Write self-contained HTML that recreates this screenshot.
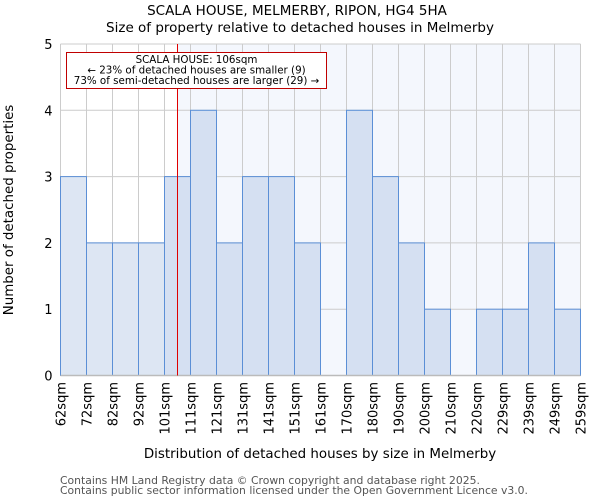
<!DOCTYPE html>
<html><head><meta charset="utf-8"><style>
body{margin:0;background:#fff;font-family:"DejaVu Sans","Liberation Sans",sans-serif;}
</style></head><body>
<svg id="chart" width="600" height="500" xmlns="http://www.w3.org/2000/svg" font-family="DejaVu Sans, Liberation Sans, sans-serif">
<text x="297" y="15" text-anchor="middle" font-size="13.5">SCALA HOUSE, MELMERBY, RIPON, HG4 5HA</text>
<text x="300" y="32" text-anchor="middle" font-size="13.5">Size of property relative to detached houses in Melmerby</text>
<g id="plot"></g>
<text x="320" y="458" text-anchor="middle" font-size="13.4">Distribution of detached houses by size in Melmerby</text>
<text transform="translate(13,210) rotate(-90)" text-anchor="middle" font-size="13.4">Number of detached properties</text>
<text x="60" y="484" font-size="10.8" fill="#555">Contains HM Land Registry data © Crown copyright and database right 2025.</text>
<text x="60" y="494" font-size="10.8" fill="#555">Contains public sector information licensed under the Open Government Licence v3.0.</text>
</svg>
<script>
const categories=["62sqm","72sqm","82sqm","92sqm","101sqm","111sqm","121sqm","131sqm","141sqm","151sqm","161sqm","170sqm","180sqm","190sqm","200sqm","210sqm","220sqm","229sqm","239sqm","249sqm","259sqm"];
const counts=[3,2,2,2,3,4,2,3,3,2,0,4,3,2,1,0,1,1,2,1];
const yTicks=[0,1,2,3,4,5];
const markerValue=106;
const binStarts=[62,72,82,92,101,111,121,131,141,151,161,170,180,190,200,210,220,229,239,249,259];
const NS="http://www.w3.org/2000/svg";
const g=document.getElementById('plot');
const X0=60.5,X1=580.5,Y0=375.5,Y1=44,YMAX=5;
const bw=(X1-X0)/counts.length;
const xs=i=>X0+i*bw;
const ys=v=>Y0-(v/YMAX)*(Y0-Y1);
function mk(t,a){const e=document.createElementNS(NS,t);for(const k in a)e.setAttribute(k,a[k]);g.appendChild(e);return e;}
let mi=0;for(let i=0;i<binStarts.length-1;i++){if(markerValue>=binStarts[i])mi=i;}
const mx=Math.round(xs(mi)+bw*(markerValue-binStarts[mi])/(binStarts[mi+1]-binStarts[mi]))-0.5;
let bg=mk('rect',{x:mx,y:Y1,width:X1-mx,height:Y0-Y1,fill:'#f4f7fd'});


categories.forEach((c,i)=>{let l=mk('line',{x1:xs(i),x2:xs(i),y1:Y1,y2:Y0,stroke:'#cccccc'});

});
yTicks.forEach(v=>{let l=mk('line',{x1:X0,x2:X1,y1:ys(v),y2:ys(v),stroke:'#cccccc'});


let t=mk('text',{x:X0-8,y:ys(v)+5,'text-anchor':'end','font-size':'13'});t.textContent=v;

});
counts.forEach((v,i)=>{if(v<=0)return;const left=xs(i)+bw<=mx+1;
let r=mk('rect',{x:xs(i),y:ys(v),width:bw,height:Y0-ys(v),fill:left?'#dde6f3':'#d5e0f2',stroke:'#5b8fd6','stroke-width':1});

});
categories.forEach((c,i)=>{let t=mk('text',{transform:`translate(${xs(i)+5},382) rotate(-90)`,'text-anchor':'end','font-size':'13'});t.textContent=c;

});
let ax=mk('line',{x1:X0,x2:X1,y1:Y0,y2:Y0,stroke:'#bbbbbb','stroke-width':1.5});


let ml=mk('line',{x1:mx,x2:mx,y1:Y1,y2:Y0,stroke:'#e00000','stroke-width':1});


let box=mk('rect',{x:66.5,y:52.5,width:260,height:36,fill:'#fff',stroke:'#c00000'});


["SCALA HOUSE: 106sqm","← 23% of detached houses are smaller (9)","73% of semi-detached houses are larger (29) →"].forEach((s,k)=>{
let t=mk('text',{x:196.5,y:63+k*10.5,'text-anchor':'middle','font-size':'10.3'});t.textContent=s;

});
</script>
</body></html>
